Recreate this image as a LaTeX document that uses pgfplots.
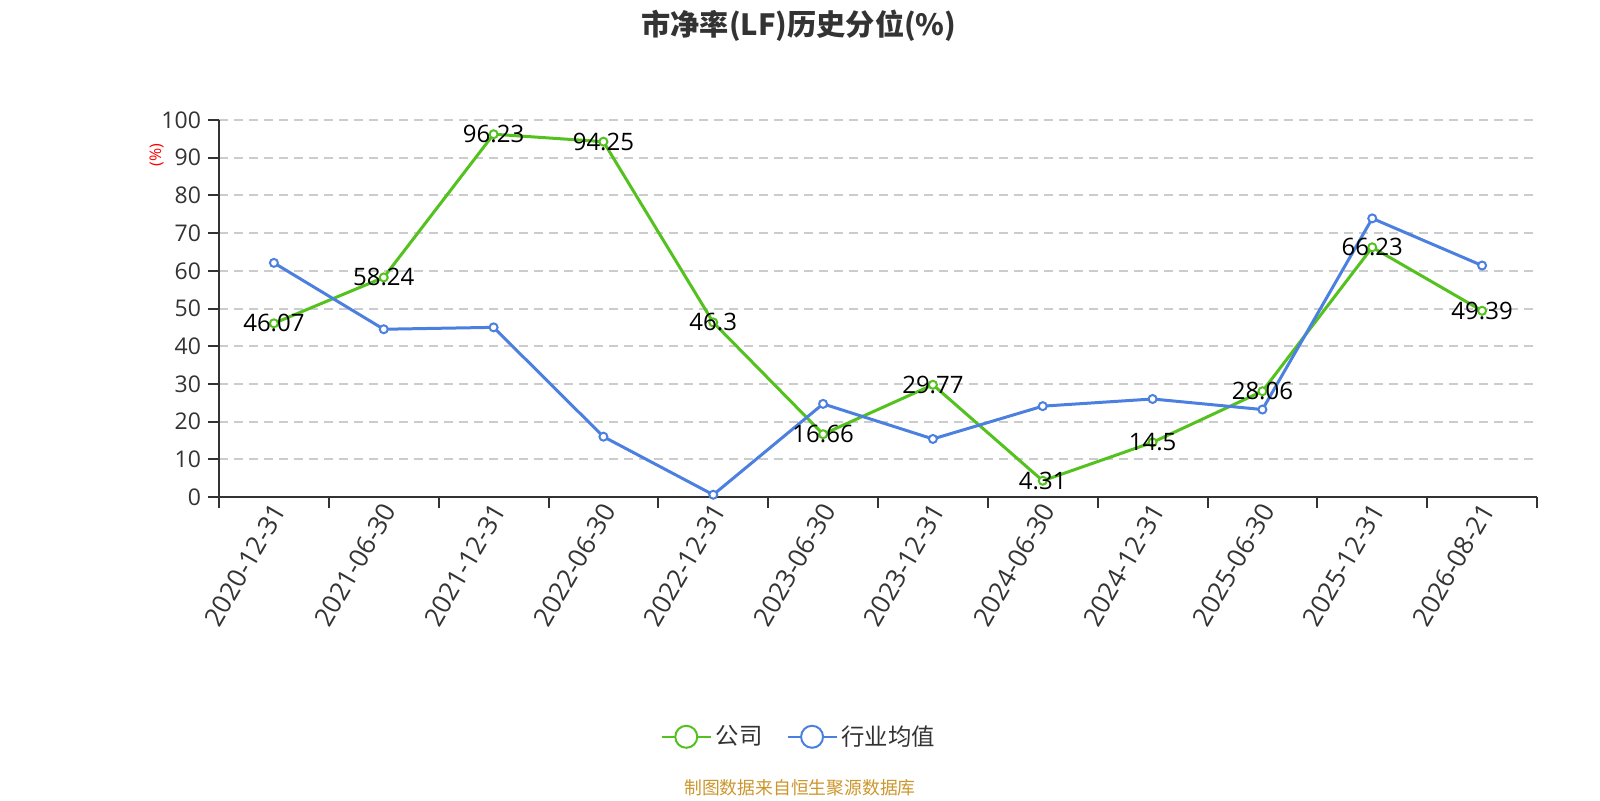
\documentclass[border=0pt]{standalone}
\usepackage{pgfplots}
\usepackage{pgfplotstable}
\pgfplotsset{compat=1.18}
\usepackage{fontspec}
\setmainfont{Open Sans}
\newfontfamily\cjk{Noto Sans CJK SC}
\definecolor{cgreen}{RGB}{84,194,30}
\definecolor{cblue}{RGB}{76,128,224}
\definecolor{ctext}{RGB}{51,51,51}
\definecolor{cgrid}{RGB}{204,204,204}
\definecolor{csrc}{RGB}{204,150,45}
\pgfplotstableread{
x company industry
0 46.07 62.1
1 58.24 44.5
2 96.23 45.0
3 94.25 16.0
4 46.3 0.6
5 16.66 24.7
6 29.77 15.4
7 4.31 24.1
8 14.5 26.0
9 28.06 23.2
10 66.23 73.9
11 49.39 61.4
}\data
\begin{document}
\begin{tikzpicture}
\useasboundingbox (0,0) rectangle (800pt,400pt);
\begin{axis}[
  at={(109.5pt,151.5pt)}, anchor=south west,
  scale only axis, width=659pt, height=188.5pt,
  xmin=-0.5, xmax=11.5, ymin=0, ymax=100,
  clip=false,
  axis x line=bottom, axis y line=left,
  axis line style={-, draw=ctext, line width=1pt},
  xtick={-0.5,0.5,...,11.5}, xticklabels={},
  extra x ticks={0,1,...,11},
  extra x tick labels={2020-12-31,2021-06-30,2021-12-31,2022-06-30,2022-12-31,2023-06-30,2023-12-31,2024-06-30,2024-12-31,2025-06-30,2025-12-31,2026-08-21},
  extra x tick style={major tick length=0pt, grid=none,
     xticklabel style={rotate=60, anchor=east, yshift=-4.5pt, xshift=1pt, font=\fontsize{13}{15}\selectfont}},
  ytick={0,10,...,100},
  ymajorgrids,
  grid style={cgrid, dash pattern=on 4.5pt off 3pt, line width=1pt},
  tick style={ctext, line width=1pt}, major tick length=5.5pt, tick align=outside,
  ticklabel style={font=\fontsize{11.5}{13}\selectfont, text=ctext},
  /pgf/number format/assume math mode=true,
  ylabel={(\%)},
  ylabel style={at={(axis description cs:-0.0473,0.907)}, anchor=center, text=red, font=\fontsize{8}{9}\selectfont},
  title={\cjk\bfseries 市净率(LF)历史分位(\%)},
  title style={at={(axis description cs:0.440,1.257)}, anchor=center, yshift=-7.3pt, text=ctext, font=\fontsize{14.6}{16}\selectfont},
  legend style={at={(axis description cs:0.4408,-0.636)}, anchor=center, draw=none, fill=none,
     font=\cjk\fontsize{11.7}{13}\selectfont, text=ctext,
     /tikz/every even column/.append style={column sep=10pt}},
  legend columns=2,
  legend image code/.code={
     \draw[#1, line width=1pt, mark=none] (0pt,0pt) -- (24.5pt,0pt);
     \draw[#1, line width=1pt, fill=white, mark=none] (12.25pt,0pt) circle (5.5pt);},
]
\addplot[cgreen, line width=1.5pt, mark=*, mark size=2pt, mark options={fill=white, line width=1pt}] table[x=x,y=company]{\data};
\addplot[cblue, line width=1.5pt, mark=*, mark size=2pt, mark options={fill=white, line width=1pt}] table[x=x,y=industry]{\data};
\addplot[draw=none, mark=none, forget plot, nodes near coords,
   every node near coord/.append style={anchor=center, text=black, font=\fontsize{12}{14}\selectfont}]
   table[x=x,y=company]{\data};
\legend{公司,行业均值}
\end{axis}
\node[text=csrc, font=\cjk\fontsize{8.9}{10}\selectfont] at (400pt,6pt) {制图数据来自恒生聚源数据库};
\end{tikzpicture}
\end{document}
